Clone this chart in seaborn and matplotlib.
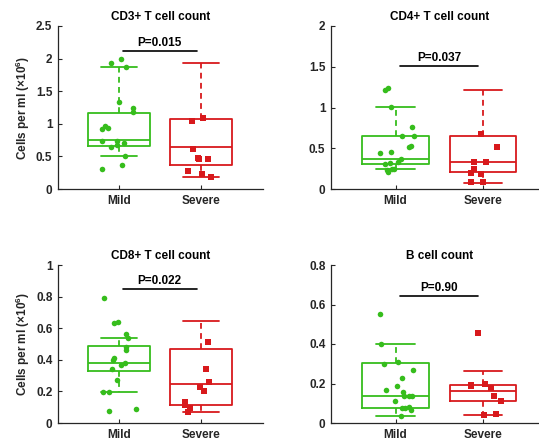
import numpy as np
import pandas as pd
import matplotlib
matplotlib.use("Agg")
import matplotlib.pyplot as plt
import seaborn as sns

sns.set_style("white")
plt.rcParams['font.family'] = ['Liberation Sans', 'DejaVu Sans']
plt.rcParams['font.weight'] = 'bold'
plt.rcParams['mathtext.default'] = 'regular'

groups = ["Mild", "Severe"]
titles = ["CD3+ T cell count", "CD4+ T cell count", "CD8+ T cell count", "B cell count"]
p_labels = ["P=0.015", "P=0.037", "P=0.022", "P=0.90"]
p_bar_y = [2.12, 1.51, 0.85, 0.645]
y_max = [2.5, 2.0, 1.0, 0.8]
y_step = [0.5, 0.5, 0.2, 0.2]

cd3_mild = [2.00, 1.87, 1.93, 1.34, 1.24, 1.18, 0.97, 0.94, 0.92, 0.73, 0.74, 0.67, 0.70, 0.64, 0.51, 0.37, 0.31]
cd3_severe = [1.09, 1.04, 0.48, 0.62, 0.46, 0.46, 0.27, 0.23, 0.19]
cd4_mild = [1.245, 1.22, 1.01, 0.755, 0.645, 0.645, 0.53, 0.51, 0.46, 0.44, 0.37, 0.33, 0.32, 0.31, 0.25, 0.25, 0.23, 0.21]
cd4_severe = [0.68, 0.52, 0.33, 0.33, 0.24, 0.18, 0.20, 0.08, 0.08]
cd8_mild = [0.79, 0.64, 0.63, 0.565, 0.54, 0.48, 0.465, 0.41, 0.38, 0.40, 0.37, 0.34, 0.27, 0.196, 0.196, 0.086, 0.074]
cd8_severe = [0.51, 0.34, 0.26, 0.23, 0.20, 0.13, 0.116, 0.097, 0.07]
b_mild = [0.55, 0.40, 0.31, 0.30, 0.27, 0.23, 0.186, 0.155, 0.167, 0.135, 0.138, 0.138, 0.113, 0.08, 0.075, 0.076, 0.068, 0.034]
b_severe = [0.454, 0.20, 0.19, 0.185, 0.175, 0.137, 0.113, 0.047, 0.04]

# box summaries: (whisker low, q1, median, q3, whisker high)
cd3_box = [(0.50, 0.66, 0.745, 1.16, 1.87), (0.19, 0.365, 0.65, 1.075, 1.93)]
cd4_box = [(0.25, 0.31, 0.365, 0.65, 1.01), (0.07, 0.21, 0.33, 0.645, 1.22)]
cd8_box = [(0.196, 0.33, 0.38, 0.49, 0.54), (0.07, 0.116, 0.247, 0.466, 0.643)]
b_box = [(0.034, 0.076, 0.135, 0.302, 0.398), (0.042, 0.11, 0.16, 0.19, 0.265)]

panels = [(cd3_mild, cd3_severe, cd3_box), (cd4_mild, cd4_severe, cd4_box),
          (cd8_mild, cd8_severe, cd8_box), (b_mild, b_severe, b_box)]

colors = {"Mild": "#36bd1c", "Severe": "#d8191c"}
markers = {"Mild": "o", "Severe": "s"}
msize = {"Mild": 4.0, "Severe": 4.6}
axis_col = "#262626"

W, H = 539, 445
fig = plt.figure(figsize=(W / 100, H / 100), dpi=100)
rects_px = [(58, 26, 205, 163), (331, 26, 218, 163), (58, 265, 205, 158), (331, 265, 218, 158)]

np.random.seed(3)
for i, ((mild, severe, box), (x0, y0, w, h)) in enumerate(zip(panels, rects_px)):
    ax = fig.add_axes([x0 / W, 1 - (y0 + h) / H, w / W, h / H])
    df = pd.DataFrame({"group": ["Mild"] * len(mild) + ["Severe"] * len(severe),
                       "value": list(mild) + list(severe)})
    for g in groups:
        sns.stripplot(data=df[df.group == g], x="group", y="value", order=groups,
                      color=colors[g], marker=markers[g], size=msize[g],
                      jitter=0.22, linewidth=0, ax=ax, zorder=3)
    stats = []
    for g, (wl, q1, med, q3, wh) in zip(groups, box):
        stats.append(dict(whislo=wl, q1=q1, med=med, q3=q3, whishi=wh, fliers=[], label=g))
    for k, g in enumerate(groups):
        c = colors[g]
        ax.bxp([stats[k]], positions=[k], widths=0.76, capwidths=0.44, showfliers=False,
               manage_ticks=False,
               boxprops=dict(color=c, linewidth=1.3),
               medianprops=dict(color=c, linewidth=1.3),
               whiskerprops=dict(color=c, linewidth=1.3, linestyle=(0, (3.2, 2.4))),
               capprops=dict(color=c, linewidth=1.3))
    ax.set_xlim(-0.74, 1.76)
    ax.set_ylim(0, y_max[i])
    ticks = np.round(np.arange(0, y_max[i] + 1e-9, y_step[i]), 2)
    ax.set_yticks(ticks)
    ax.set_yticklabels([f"{t:g}" for t in ticks])
    ax.set_xticks([0, 1])
    ax.set_xticklabels(groups)
    ax.set_xlabel("")
    if i % 2 == 0:
        ax.set_ylabel(r"Cells per ml ($\times$10$^6$)", fontsize=8.5, fontweight="bold",
                      color=axis_col, labelpad=3)
    else:
        ax.set_ylabel("")
    ax.set_title(titles[i], fontsize=8.5, fontweight="bold", color="black", pad=4)
    ax.plot([0.05, 0.95], [p_bar_y[i]] * 2, color="black", linewidth=1.2)
    ax.annotate(p_labels[i], xy=(0.5, p_bar_y[i]), xytext=(0, 1.5), textcoords="offset points",
                ha="center", va="bottom", fontsize=8.5, fontweight="bold", color="black")
    for s in ["top", "right"]:
        ax.spines[s].set_visible(False)
    for s in ["left", "bottom"]:
        ax.spines[s].set_color(axis_col)
        ax.spines[s].set_linewidth(0.9)
    ax.tick_params(direction="in", length=3, width=0.8, colors=axis_col, labelsize=8.5,
                   left=True, bottom=True, pad=4)
    for lab in ax.get_xticklabels() + ax.get_yticklabels():
        lab.set_fontweight("bold")
    ax.set_facecolor("none")

fig.savefig("out.png", dpi=100)
